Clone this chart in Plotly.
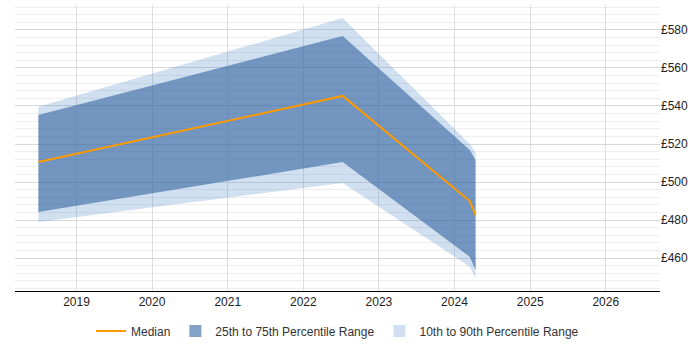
import plotly.graph_objects as go

dates = ["2018-07-01", "2022-07-10", "2024-03-15", "2024-04-12"]
p10 = [479, 499.5, 455.5, 449.5]
p25 = [484.2, 510.5, 460.7, 453.7]
median = [510.5, 545.3, 490, 482.6]
p75 = [535.3, 576.8, 516.8, 511.6]
p90 = [539.6, 586.2, 520, 515.5]

light = "rgba(70,130,200,0.25)"
dark = "rgba(50,100,160,0.6)"

fig = go.Figure()
fig.add_trace(go.Scatter(x=dates, y=p10, mode="lines", line=dict(width=0, color=light),
                         showlegend=False, hoverinfo="skip"))
fig.add_trace(go.Scatter(x=dates, y=p90, mode="lines", line=dict(width=0, color=light),
                         fill="tonexty", fillcolor=light, showlegend=False))
fig.add_trace(go.Scatter(x=dates, y=p25, mode="lines", line=dict(width=0, color=dark),
                         showlegend=False, hoverinfo="skip"))
fig.add_trace(go.Scatter(x=dates, y=p75, mode="lines", line=dict(width=0, color=dark),
                         fill="tonexty", fillcolor=dark, showlegend=False))
fig.add_trace(go.Scatter(x=dates, y=median, mode="lines", line=dict(width=2, color="#ff9900"),
                         name="Median", legendrank=1))
# legend swatches
fig.add_trace(go.Bar(x=[None], y=[None], marker=dict(color=dark, line=dict(width=0)),
                     name="25th to 75th Percentile Range", legendrank=2))
fig.add_trace(go.Bar(x=[None], y=[None], marker=dict(color=light, line=dict(width=0)),
                     name="10th to 90th Percentile Range", legendrank=3))

fig.update_layout(
    width=700, height=350,
    margin=dict(l=15, r=40, t=5, b=54),
    paper_bgcolor="white", plot_bgcolor="white",
    font=dict(family="Liberation Sans, Arial, sans-serif", size=12, color="#222"),
    legend=dict(orientation="h", x=0.5, xanchor="center", y=-0.14, yanchor="middle",
                font=dict(size=12, color="#333"), traceorder="normal"),
    xaxis=dict(type="date", range=["2018-03-10", "2026-09-20"], dtick="M12",
               tick0="2019-01-01", tickformat="%Y", showgrid=True, gridcolor="#dddddd",
               showline=True, linecolor="#000", linewidth=1, ticks="", zeroline=False,
               tickfont=dict(size=12)),
    yaxis=dict(side="right", range=[442.7, 593.1], dtick=20, tickprefix="£",
               showgrid=True, gridcolor="#d8d8d8", zeroline=False, ticks="",
               tickfont=dict(size=12),
               minor=dict(dtick=4, showgrid=True, gridcolor="#eeeeee")),
)

fig.write_html("out.html")
